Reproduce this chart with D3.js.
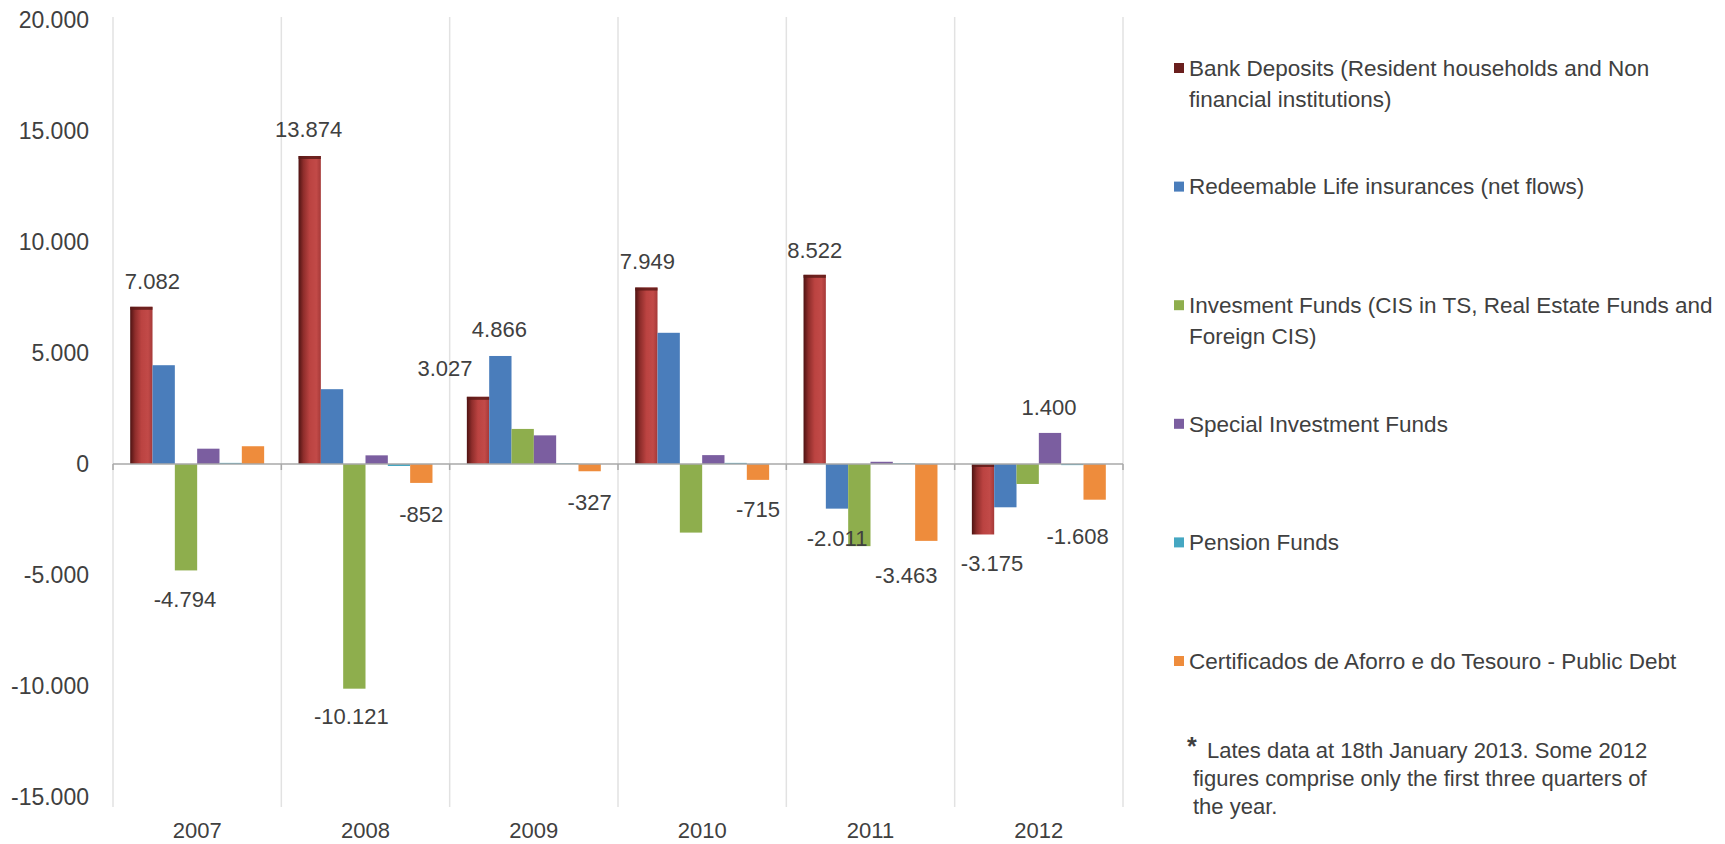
<!DOCTYPE html>
<html>
<head>
<meta charset="utf-8">
<script src="https://cdn.jsdelivr.net/npm/d3@7"></script>
<style>
  body { margin: 0; background: #ffffff; }
  svg { display: block; font-family: "Liberation Sans", Arial, sans-serif; }
</style>
</head>
<body>
<svg id="chart" width="1725" height="844"></svg>
<script>
// Annual flows of household savings instruments (millions of euro)
const years = ["2007", "2008", "2009", "2010", "2011", "2012"];

const bankDeposits    = [7082, 13874, 3027, 7949, 8522, -3175];
const lifeInsurance   = [4450, 3370, 4866, 5910, -2011, -1950];
const investmentFunds = [-4794, -10121, 1580, -3090, -3700, -900];
const specialFunds    = [690, 390, 1290, 400, 100, 1400];
const pensionFunds    = [50, -90, 30, 50, 30, -50];
const publicDebt      = [800, -852, -327, -715, -3463, -1608];

const legendLines = [
  ["Bank Deposits (Resident households and Non", "financial institutions)"],
  ["Redeemable Life insurances (net flows)"],
  ["Invesment Funds (CIS in TS, Real Estate Funds and", "Foreign CIS)"],
  ["Special Investment Funds"],
  ["Pension Funds"],
  ["Certificados de Aforro e do Tesouro - Public Debt"]
];

const yTicks = [20000, 15000, 10000, 5000, 0, -5000, -10000, -15000];

// Bars that carry a value label: [series index, year index]
const labelledBars = [
  [0, 0], [2, 0],
  [0, 1], [2, 1], [5, 1],
  [0, 2], [1, 2], [5, 2],
  [0, 3], [5, 3],
  [0, 4], [1, 4], [5, 4],
  [0, 5], [3, 5], [5, 5]
];

const footnoteLines = [
  "Lates data at 18th January 2013. Some 2012",
  "figures comprise only the first three quarters of",
  "the year."
];

// ---------------------------------------------------------------
const series = [bankDeposits, lifeInsurance, investmentFunds, specialFunds, pensionFunds, publicDebt];
const colors = ["url(#redGrad)", "#4a7dbb", "#8eae4d", "#7b5ea0", "#45a7c2", "#ee8c3c"];
const swatchColors = ["#6a1f1e", "#4a7dbb", "#8eae4d", "#7b5ea0", "#45a7c2", "#ee8c3c"];
// label nudges (px) for each labelled bar, same order as labelledBars
const labelNudge = [
  [11, 1], [-1, -1],
  [-1, -1], [-3, -2], [0, 1],
  [-33, -3], [-1, -1], [0, 1],
  [1, 0], [0, -1],
  [0, 1], [0, 0], [-20, 4],
  [9, -1], [-1, 0], [-17, 7]
];

const textColor = "#404040";
const svg = d3.select("#chart");

const defs = svg.append("defs");
const grad = defs.append("linearGradient").attr("id", "redGrad")
  .attr("x1", "0%").attr("x2", "100%").attr("y1", "0%").attr("y2", "0%");
[[0, "#4e1312"], [0.22, "#8e2d2b"], [0.5, "#bb4341"], [0.8, "#c24a48"], [1, "#a53938"]]
  .forEach(([o, c]) => grad.append("stop").attr("offset", o).attr("stop-color", c));

const plotLeft = 113, plotRight = 1123, plotTop = 20, plotBottom = 797;

const y = d3.scaleLinear().domain([-15000, 20000]).range([plotBottom, plotTop]);
const x0 = d3.scaleBand().domain(years).range([plotLeft, plotRight]);
const x1 = d3.scaleBand().domain(d3.range(series.length))
  .range([0, x0.bandwidth()]).paddingOuter(0.77);

const locale = d3.formatLocale({ decimal: ",", thousands: ".", grouping: [3], currency: ["", ""], minus: "-" });
const fmt = locale.format(",d");

// category separators
const bounds = d3.range(years.length + 1).map(i => plotLeft + i * x0.step());
svg.append("g").selectAll("line").data(bounds).join("line")
  .attr("x1", d => d).attr("x2", d => d)
  .attr("y1", plotTop - 3).attr("y2", plotBottom + 10)
  .attr("stroke", "#e2e2e2").attr("stroke-width", 1.5);

// bars
const barData = [];
series.forEach((vals, si) => vals.forEach((v, yi) => barData.push({ si, yi, v })));

const bars = svg.append("g");
bars.selectAll("rect").data(barData).join("rect")
  .attr("x", d => x0(years[d.yi]) + x1(d.si))
  .attr("width", x1.bandwidth())
  .attr("y", d => y(Math.max(0, d.v)))
  .attr("height", d => Math.abs(y(d.v) - y(0)))
  .attr("fill", d => colors[d.si]);

// darker top edge on the deposit bars
bars.selectAll("rect.edge").data(barData.filter(d => d.si === 0)).join("rect")
  .attr("class", "edge")
  .attr("x", d => x0(years[d.yi]) + x1(d.si))
  .attr("width", x1.bandwidth())
  .attr("y", d => y(Math.max(0, d.v)))
  .attr("height", 3)
  .attr("fill", "#5a1917").attr("opacity", 0.8);

// zero line
svg.append("line")
  .attr("x1", plotLeft).attr("x2", plotRight)
  .attr("y1", y(0)).attr("y2", y(0))
  .attr("stroke", "#a9a9a9").attr("stroke-width", 1.5);
svg.append("g").selectAll("line").data(bounds).join("line")
  .attr("x1", d => d).attr("x2", d => d)
  .attr("y1", y(0)).attr("y2", y(0) + 6)
  .attr("stroke", "#a9a9a9").attr("stroke-width", 1.5);

// value axis
const yAxis = svg.append("g")
  .attr("transform", `translate(${plotLeft},0)`)
  .call(d3.axisLeft(y).tickValues(yTicks).tickSize(0).tickPadding(24).tickFormat(fmt));
yAxis.select(".domain").remove();
yAxis.selectAll("text").attr("fill", textColor).style("font-size", "23px")
  .style("font-family", "'Liberation Sans', Arial, sans-serif");

// category axis
const xAxis = svg.append("g")
  .attr("transform", `translate(0,${plotBottom})`)
  .call(d3.axisBottom(x0).tickSize(0).tickPadding(25));
xAxis.select(".domain").remove();
xAxis.selectAll("text").attr("fill", textColor).style("font-size", "22px")
  .style("font-family", "'Liberation Sans', Arial, sans-serif");

// value labels
svg.append("g").selectAll("text").data(labelledBars).join("text")
  .attr("x", (d, i) => x0(years[d[1]]) + x1(d[0]) + x1.bandwidth() / 2 + labelNudge[i][0])
  .attr("y", (d, i) => {
    const v = series[d[0]][d[1]];
    return (v >= 0 ? y(v) - 26 : y(v) + 30) + labelNudge[i][1];
  })
  .attr("dy", "0.35em")
  .attr("text-anchor", "middle")
  .attr("fill", textColor)
  .style("font-size", "22px")
  .text(d => fmt(series[d[0]][d[1]]));

// legend
const legendX = 1174, legendTop = 68, legendStep = 118.6, lineGap = 31;
const legend = svg.append("g");
legendLines.forEach((lines, i) => {
  const cy = legendTop + i * legendStep;
  legend.append("rect")
    .attr("x", legendX).attr("y", cy - 5).attr("width", 10).attr("height", 10)
    .attr("fill", swatchColors[i]);
  legend.append("text")
    .attr("x", legendX + 15).attr("y", cy)
    .attr("fill", textColor).style("font-size", "22.5px")
    .selectAll("tspan").data(lines).join("tspan")
    .attr("x", legendX + 15).attr("dy", (l, j) => j === 0 ? "0.35em" : lineGap)
    .text(l => l);
});

// footnote
const note = svg.append("g").attr("fill", textColor);
note.append("text").attr("x", 1187).attr("y", 755)
  .style("font-size", "25px").style("font-weight", "bold").text("*");
footnoteLines.forEach((t, i) => {
  note.append("text")
    .attr("x", i === 0 ? 1207 : 1193).attr("y", 750 + i * 28).attr("dy", "0.35em")
    .style("font-size", "22px").text(t);
});
</script>
</body>
</html>
